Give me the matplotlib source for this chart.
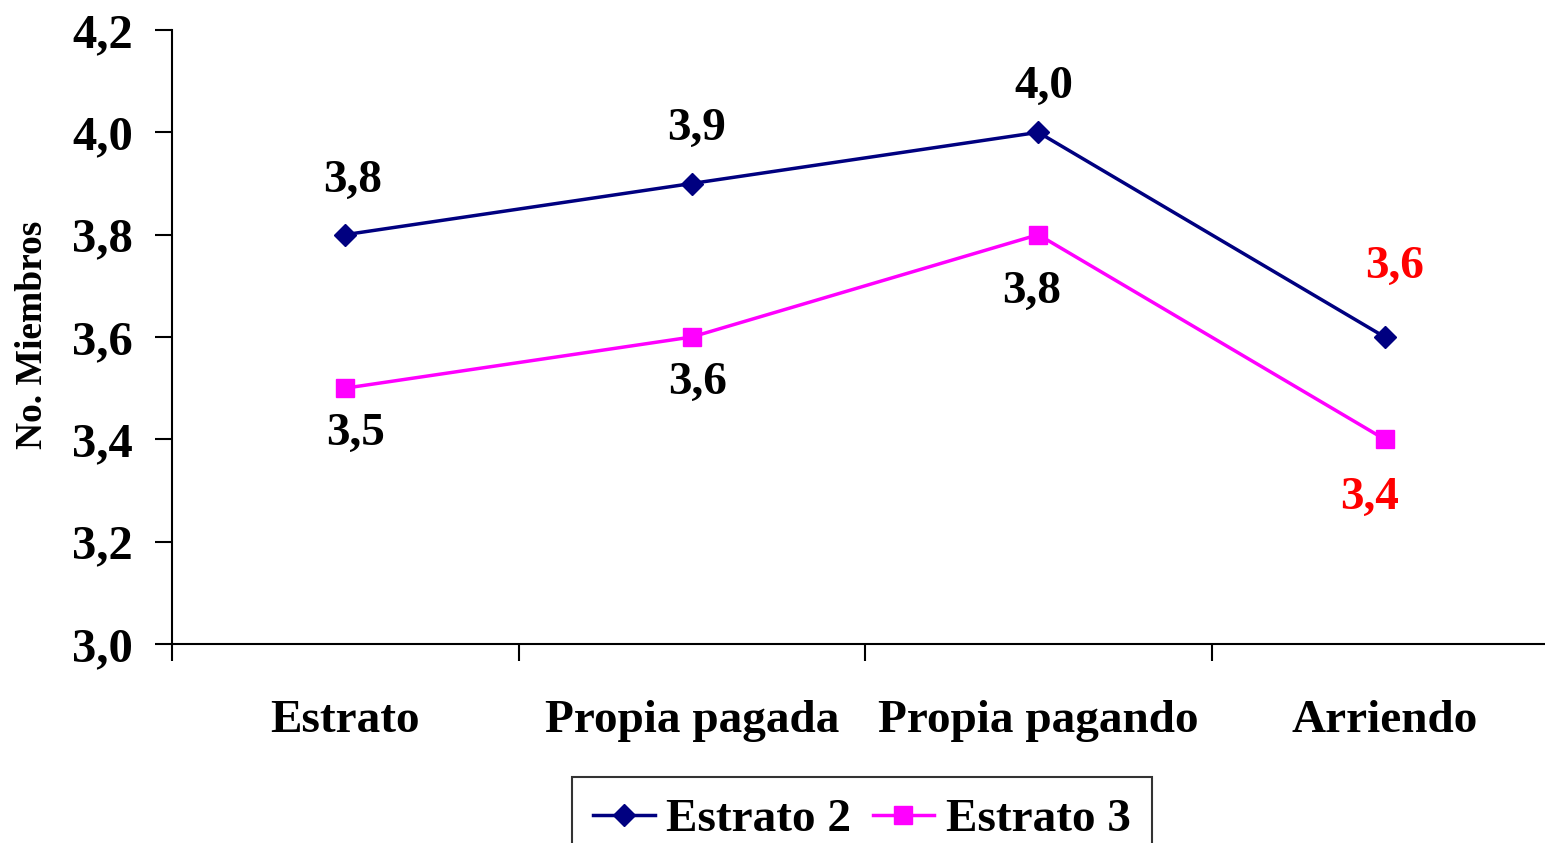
import matplotlib
matplotlib.use("Agg")
import matplotlib.pyplot as plt
from matplotlib.ticker import FixedLocator, FuncFormatter

categories = ["Estrato", "Propia pagada", "Propia pagando", "Arriendo"]
estrato2 = [3.8, 3.9, 4.0, 3.6]
estrato3 = [3.5, 3.6, 3.8, 3.4]
yticks = [3.0, 3.2, 3.4, 3.6, 3.8, 4.0, 4.2]

plt.rcParams['font.family'] = ['Liberation Serif', 'DejaVu Serif']
plt.rcParams['font.weight'] = 'bold'

fig = plt.figure(figsize=(15.45, 8.43), dpi=100)
ax = fig.add_axes([172 / 1545, 1 - 644 / 843, (1558 - 172) / 1545, (644 - 30) / 843])

x = list(range(len(categories)))
ax.plot(x, estrato2, color="#000080", lw=2.5, marker="D", markersize=11,
        label="Estrato 2", clip_on=False)
ax.plot(x, estrato3, color="#FF00FF", lw=2.5, marker="s", markersize=13,
        label="Estrato 3", clip_on=False)

def fmt(v):
    return f"{v:.1f}".replace(".", ",")

# data labels: Estrato 2 above, Estrato 3 below; last category in red
up_off = [(7, 54), (5, 55), (6, 45), (10, 70)]
dn_off = [(10, -46), (6, -46), (-7, -57), (-15, -59)]
for i, (a, b) in enumerate(zip(estrato2, estrato3)):
    c = "red" if i == len(categories) - 1 else "black"
    ax.annotate(fmt(a), (i, a), xytext=up_off[i], textcoords="offset pixels",
                ha="center", va="center", fontsize=34, fontweight="bold", color=c)
    ax.annotate(fmt(b), (i, b), xytext=dn_off[i], textcoords="offset pixels",
                ha="center", va="center", fontsize=34, fontweight="bold", color=c)

ax.set_xlim(-0.5, 3.5)
ax.set_ylim(3.0, 4.2)
ax.set_yticks(yticks)
ax.yaxis.set_major_formatter(FuncFormatter(lambda v, p: fmt(v)))
ax.set_xticks(x)
ax.set_xticklabels(categories)
ax.xaxis.set_minor_locator(FixedLocator([-0.5, 0.5, 1.5, 2.5, 3.5]))

ax.tick_params(axis="y", direction="out", length=12, width=1.5, pad=16, labelsize=35)
ax.tick_params(axis="x", which="major", length=0, pad=40, labelsize=34)
ax.tick_params(axis="x", which="minor", direction="out", length=12, width=1.5)

for s in ["top", "right"]:
    ax.spines[s].set_visible(False)
for s in ["left", "bottom"]:
    ax.spines[s].set_linewidth(1.5)

fig.text(33 / 1545, 1 - 335 / 843, "No. Miembros", rotation=90, ha="center",
         va="center", fontsize=27, fontweight="bold")

leg = fig.legend(loc="upper center", bbox_to_anchor=(862 / 1545, 1 - 777 / 843),
                 ncol=2, fontsize=34, frameon=True, fancybox=False,
                 edgecolor="black", handlelength=1.3, columnspacing=0.45,
                 handletextpad=0.25, borderpad=0.45, borderaxespad=0)
leg.get_frame().set_linewidth(1.5)

fig.savefig("out.png", dpi=100)
